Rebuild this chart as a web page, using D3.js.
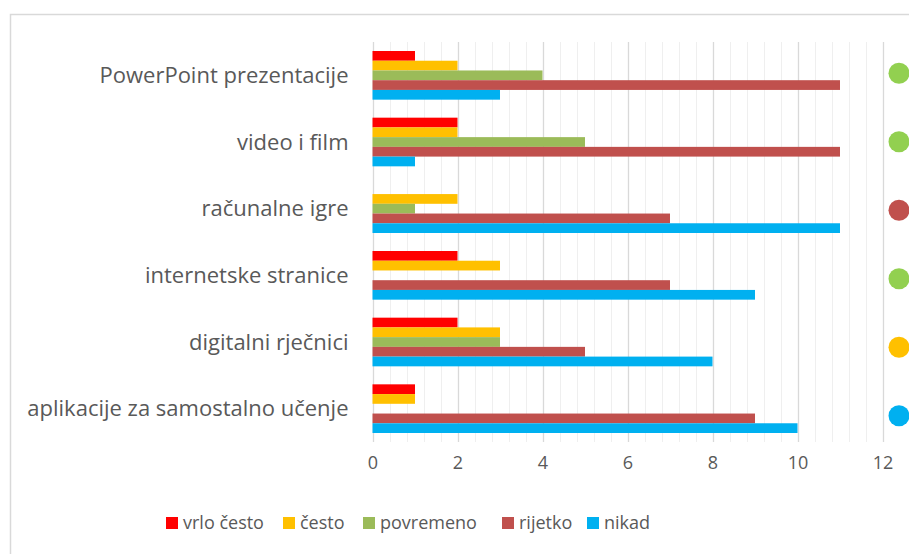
<!DOCTYPE html>
<html>
<head>
<meta charset="utf-8">
<script src="https://cdn.jsdelivr.net/npm/d3@7"></script>
<style>
	body { margin: 0; background: #fff; }
	svg text { font-family: "Open Sans", sans-serif; fill: #595959; }
</style>
</head>
<body>
<svg id="view" width="909" height="554"></svg>
<script>
// Chart data
var categories = ['PowerPoint prezentacije', 'video i film', 'računalne igre',
	'internetske stranice', 'digitalni rječnici', 'aplikacije za samostalno učenje'];
var seriesNames = ['vrlo često', 'često', 'povremeno', 'rijetko', 'nikad'];
var seriesColors = ['#ff0000', '#ffc000', '#9bbb59', '#c0504d', '#00b0f0'];
var vrloCesto = [1, 2, 0, 2, 2, 1];
var cesto = [2, 2, 2, 3, 3, 1];
var povremeno = [4, 5, 1, 0, 3, 0];
var rijetko = [11, 11, 7, 7, 5, 9];
var nikad = [3, 1, 11, 9, 8, 10];
var xTicks = [0, 2, 4, 6, 8, 10, 12];
// coloured markers at the right edge, one per category
var markerColors = ['#92d050', '#92d050', '#c0504d', '#92d050', '#ffc000', '#00b0f0'];

var series = [vrloCesto, cesto, povremeno, rijetko, nikad];

var svg = d3.select('svg#view');
// plot area (window.top is reserved, so prefixed names)
var plotLeft = 372.5, plotRight = 882.5, plotTop = 42, plotBottom = 442;

// chart frame
svg.append('rect')
	.attr('x', 10.5).attr('y', 14.5)
	.attr('width', 920).attr('height', 560)
	.attr('fill', 'none').attr('stroke', '#d9d9d9').attr('stroke-width', 1.5);

var x = d3.scaleLinear().domain([0, 12]).range([plotLeft, plotRight]);
var y = d3.scaleBand().domain(categories).range([plotTop, plotBottom])
	.paddingInner(0.27).paddingOuter(0.135);
var ySub = d3.scaleBand().domain(d3.range(series.length)).range([0, y.bandwidth()]);

// minor grid
var minor = d3.range(0, 12.01, 0.4).filter(function(v) { return Math.abs(v / 2 - Math.round(v / 2)) > 0.01; });
svg.append('g').selectAll('line').data(minor).join('line')
	.attr('x1', function(d) { return Math.round(x(d)) + 0.5; })
	.attr('x2', function(d) { return Math.round(x(d)) + 0.5; })
	.attr('y1', plotTop).attr('y2', plotBottom)
	.attr('stroke', '#efefef');

// major grid
svg.append('g').selectAll('line').data(xTicks).join('line')
	.attr('x1', function(d) { return Math.round(x(d)) + 0.5; })
	.attr('x2', function(d) { return Math.round(x(d)) + 0.5; })
	.attr('y1', plotTop).attr('y2', plotBottom)
	.attr('stroke', '#d9d9d9').attr('stroke-width', 1.3);

// bars
var rows = [];
categories.forEach(function(c, i) {
	series.forEach(function(s, j) {
		rows.push({ cat: c, s: j, v: s[i] });
	});
});
svg.append('g').selectAll('rect').data(rows).join('rect')
	.attr('x', x(0))
	.attr('y', function(d) { return y(d.cat) + ySub(d.s); })
	.attr('width', function(d) { return x(d.v) - x(0); })
	.attr('height', ySub.bandwidth())
	.attr('fill', function(d) { return seriesColors[d.s]; });

// category labels
svg.append('g').selectAll('text').data(categories).join('text')
	.attr('x', plotLeft - 24)
	.attr('y', function(d) { return y(d) + y.bandwidth() / 2; })
	.attr('dy', '0.35em')
	.attr('text-anchor', 'end')
	.style('font-size', '22px')
	.text(function(d) { return d; });

// x axis labels
var xAxis = d3.axisBottom(x).tickValues(xTicks).tickSize(0).tickPadding(14);
var gx = svg.append('g').attr('transform', 'translate(0,' + plotBottom + ')').call(xAxis);
gx.select('.domain').remove();
gx.selectAll('text').style('font-size', '18px').style('font-family', '"Open Sans", sans-serif').attr('fill', '#595959');

// right markers
var yMark = d3.scaleBand().domain(categories).range([39, 450]);
svg.append('g').selectAll('circle').data(categories).join('circle')
	.attr('cx', 899)
	.attr('cy', function(d) { return yMark(d) + yMark.bandwidth() / 2; })
	.attr('r', 10.5)
	.attr('fill', function(d, i) { return markerColors[i]; });

// legend
var legendX = [166, 283, 363, 502, 587];
var lg = svg.append('g').selectAll('g').data(seriesNames).join('g')
	.attr('transform', function(d, i) { return 'translate(' + legendX[i] + ',517)'; });
lg.append('rect').attr('width', 12).attr('height', 12)
	.attr('fill', function(d, i) { return seriesColors[i]; });
lg.append('text').attr('x', 17).attr('y', 6).attr('dy', '0.35em')
	.style('font-size', '18px')
	.text(function(d) { return d; });
</script>
</body>
</html>
